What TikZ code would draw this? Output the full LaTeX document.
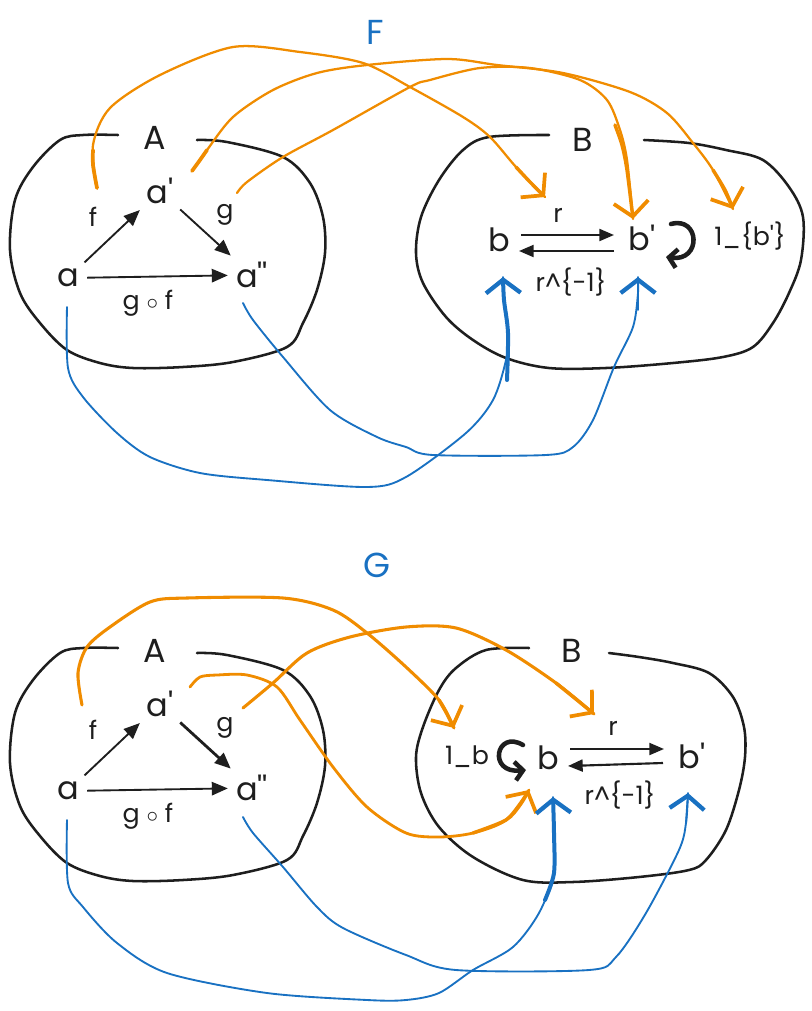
\documentclass[tikz,border=0pt]{standalone}
\usepackage{fontspec}
\newfontfamily\hand{Poppins}
\usetikzlibrary{arrows.meta,calc}
\definecolor{ink}{HTML}{1E1E1E}
\definecolor{orng}{HTML}{F08C00}
\definecolor{blu}{HTML}{1971C2}
\begin{document}
\begin{tikzpicture}[x=0.75pt,y=-0.75pt,
  obj/.style={font=\hand\fontsize{24}{26}\selectfont, text=ink, inner sep=2pt},
  lbl/.style={font=\hand\fontsize{19}{21}\selectfont, text=ink, inner sep=1pt},
  ttl/.style={font=\hand\fontsize{25}{28}\selectfont, text=ink, inner sep=1pt},
  fun/.style={font=\hand\fontsize{26}{28}\selectfont, text=blu, inner sep=1pt},
  blob/.style={draw=ink, line width=1.9pt, line cap=round, line join=round},
  morph/.style={draw=ink, line width=1.4pt, -{Triangle[length=12pt,width=10pt]}, shorten >=4pt, shorten <=4pt},
  morphthick/.style={morph, line width=2.1pt},
  pair/.style={draw=ink, line width=1.6pt, -{Triangle[length=11pt,width=9pt]}},
  omap/.style={draw=orng, line width=1.7pt, line cap=round, line join=round},
  ohead/.style={draw=orng, line width=2.6pt, line cap=round, line join=round, -{Straight Barb[length=11pt,width=26pt,line width=2.8pt]}},
  bmap/.style={draw=blu, line width=1.4pt, line cap=round, line join=round},
  bhead/.style={draw=blu, line width=1.4pt, line cap=round, line join=round, -{Straight Barb[length=10pt,width=26pt,line width=3.2pt]}},
  bheadthick/.style={bhead, line width=3pt},
  loopy/.style={draw=ink, line width=3.4pt, line cap=round, -{Straight Barb[length=6pt,width=14pt,line width=3.4pt]}}
]
\useasboundingbox (0,0) rectangle (812,1011);

% ================= F =================
\node[fun] (F) at (375,32) {F};
% blob A
\draw[blob] plot[smooth, tension=0.55] coordinates {(197,140) (227,142) (283,157) (310,183) (323,217) (325,253) (317,290) (303,323) (287,347) (233,362) (183,367) (133,368) (100,363) (67,350) (40,323) (20,293) (10,250) (15,200) (33,167) (60,140) (83,135) (118,135)};
\node[ttl] (A1) at (155,138) {A};
% blob B
\draw[blob] plot[smooth, tension=0.55] coordinates {(644,140) (689,143) (726,150) (763,160) (789,187) (803,217) (801,260) (789,293) (773,323) (753,347) (723,357) (673,363) (606,368) (549,368) (506,358) (473,340) (446,317) (423,283) (416,253) (421,217) (439,180) (463,150) (489,137) (549,135)};
\node[ttl] (B1) at (583,140) {B};

\node[obj] (a1) at (68,278) {a};
\node[obj] (ap1) at (160,191) {a'};
\node[obj] (app1) at (252,275) {a''};
\node[lbl] (f1) at (93,217) {f};
\node[lbl] (g1) at (225,215) {g};
\node[lbl] (gf1) at (148,303) {g $\circ$ f};
\draw[morph] (a1) -- (ap1);
\draw[morph] (ap1) -- (app1);
\draw[morph] (a1) -- (app1);

\node[obj] (b1) at (499,240) {b};
\node[obj] (bp1) at (642,238) {b'};
\node[lbl] (r1) at (558,215) {r};
\node[lbl] (ri1) at (571,282) {r\textasciicircum\{-1\}};
\node[lbl] (id1) at (750,236) {1\_\{b'\}};
\draw[pair] ($(b1)+(22,-5)$) -- ($(bp1)+(-28,-3)$);
\draw[pair] ($(bp1)+(-28,13)$) -- ($(b1)+(20,11)$);
\draw[loopy] (671,224) .. controls (700,216) and (702,262) .. (666,257);

% orange (F)
\draw[omap] plot[smooth] coordinates {($(f1)+(4,-29)$) (93,145) (110,108) (160,75) (233,47) (300,52) (363,63) (410,87) (463,117) (490,137) (516,167) ($(r1)+(-13,-18)$)};
\draw[ohead] plot[smooth] coordinates {(516,167) (530,182) ($(r1)+(-13,-18)$)};
\draw[omap] plot[smooth] coordinates {($(ap1)+(32,-20)$) (207,150) (233,117) (273,90) (317,73) (367,65) (447,59) (497,65) (563,73) (630,92) (667,113) (693,143) (713,170) ($(id1)+(-17,-27)$)};
\draw[ohead] plot[smooth] coordinates {(713,170) (725,190) ($(id1)+(-17,-27)$)};
\draw[omap] plot[smooth] coordinates {($(g1)+(12,-22)$) (247,182) (283,157) (333,130) (410,87) (430,80) (480,68) (530,68) (580,80) (607,100) (620,130) (627,160) ($(bp1)+(-9,-19)$)};
\draw[ohead] plot[smooth] coordinates {(615,125) (622,145) (627,170) ($(bp1)+(-9,-19)$)};
\draw[omap, line width=2.8pt] plot[smooth] coordinates {($(ap1)+(32,-20)$) (200,160) (207,150)};
\draw[omap, line width=2.8pt] plot[smooth] coordinates {($(f1)+(4,-29)$) (93,165) (93,150)};

% blue (F)
\draw[bmap] plot[smooth] coordinates {($(a1)+(-1,29)$) (68,368) (83,397) (117,433) (150,457) (200,473) (267,480) (367,487) (406,477) (466,433) (493,400) (506,360) (508,333) (504,300) ($(b1)+(4,37)$)};
\draw[bheadthick] plot[smooth] coordinates {(507,380) (508,333) (504,300) ($(b1)+(4,37)$)};
\draw[bmap] plot[smooth] coordinates {($(app1)+(-9,28)$) (253,320) (283,357) (330,410) (377,437) (406,447) (433,455) (546,455) (573,447) (593,420) (614,367) (633,327) (638,293) ($(bp1)+(-4,39)$)};
\draw[bhead] plot[smooth] coordinates {(638,310) (638,293) ($(bp1)+(-4,39)$)};

% ================= G =================
\node[fun] (G) at (377,565) {G};
\draw[blob] plot[smooth, tension=0.55] coordinates {(197,653) (227,655) (283,670) (310,696) (323,730) (325,766) (317,803) (303,836) (287,860) (233,875) (183,880) (133,881) (100,876) (67,863) (40,836) (20,806) (10,763) (15,713) (33,680) (60,653) (83,648) (118,648)};
\node[ttl] (A2) at (155,651) {A};
\draw[blob] plot[smooth, tension=0.55] coordinates {(609,653) (639,657) (673,663) (709,673) (733,697) (744,727) (745,757) (739,790) (726,830) (706,860) (689,870) (639,877) (573,882) (523,880) (473,857) (439,827) (421,793) (416,757) (423,727) (439,690) (456,668) (486,650) (529,648)};
\node[ttl] (B2) at (572,651) {B};

\node[obj] (a2) at (68,791) {a};
\node[obj] (ap2) at (160,704) {a'};
\node[obj] (app2) at (252,788) {a''};
\node[lbl] (f2) at (93,730) {f};
\node[lbl] (g2) at (225,728) {g};
\node[lbl] (gf2) at (148,816) {g $\circ$ f};
\draw[morph] (a2) -- (ap2);
\draw[morphthick] (ap2) -- (app2);
\draw[morph] (a2) -- (app2);

\node[obj] (b2) at (548,758) {b};
\node[obj] (bp2) at (692,756) {b'};
\node[lbl] (id2) at (467,757) {1\_b};
\node[lbl] (r2) at (613,728) {r};
\node[lbl] (ri2) at (620,795) {r\textasciicircum\{-1\}};
\draw[pair] ($(b2)+(22,-9)$) -- ($(bp2)+(-28,-7)$);
\draw[pair] ($(bp2)+(-29,7)$) -- ($(b2)+(20,8)$);
\draw[loopy] (523,745) .. controls (496,729) and (487,774) .. (526,770);

% orange (G)
\draw[omap, line width=2.3pt] plot[smooth] coordinates {($(f2)+(-11,-25)$) (78,673) (87,647) (110,627) (150,602) (187,598) (283,598) (333,610) (367,633) (406,667) (439,700) ($(id2)+(-13,-29)$)};
\draw[ohead] plot[smooth] coordinates {(439,700) (447,714) ($(id2)+(-13,-29)$)};
\draw[omap, line width=2.1pt] plot[smooth] coordinates {($(ap2)+(30,-17)$) (200,677) (217,675) (247,675) (277,687) (300,720) (333,767) (367,807) (406,833) (439,837) (473,833) (506,820) ($(b2)+(-19,32)$)};
\draw[ohead] plot[smooth] coordinates {(473,833) (506,820) (520,805) ($(b2)+(-19,32)$)};
\draw[omap, line width=2.3pt] plot[smooth] coordinates {($(g2)+(18,-20)$) (273,683) (307,653) (350,637) (406,627) (456,628) (506,650) (556,683) ($(r2)+(-19,-14)$)};
\draw[ohead] plot[smooth] coordinates {(556,683) (577,700) ($(r2)+(-19,-14)$)};

% blue (G)
\draw[bmap] plot[smooth] coordinates {($(a2)+(-1,29)$) (68,883) (83,907) (117,943) (167,973) (267,993) (367,1000) (406,1000) (439,993) (473,970) (513,947) (539,913) (554,873) (554,833) ($(b2)+(5,39)$)};
\draw[bheadthick] plot[smooth] coordinates {(545,900) (554,873) (554,833) ($(b2)+(5,39)$)};
\draw[bmap] plot[smooth] coordinates {($(app2)+(-9,29)$) (253,833) (283,867) (317,907) (343,928) (406,955) (456,970) (589,970) (616,957) (646,913) (679,850) (686,823) ($(bp2)+(-4,37)$)};
\draw[bhead] plot[smooth] coordinates {(686,823) ($(bp2)+(-4,37)$)};
\end{tikzpicture}
\end{document}
